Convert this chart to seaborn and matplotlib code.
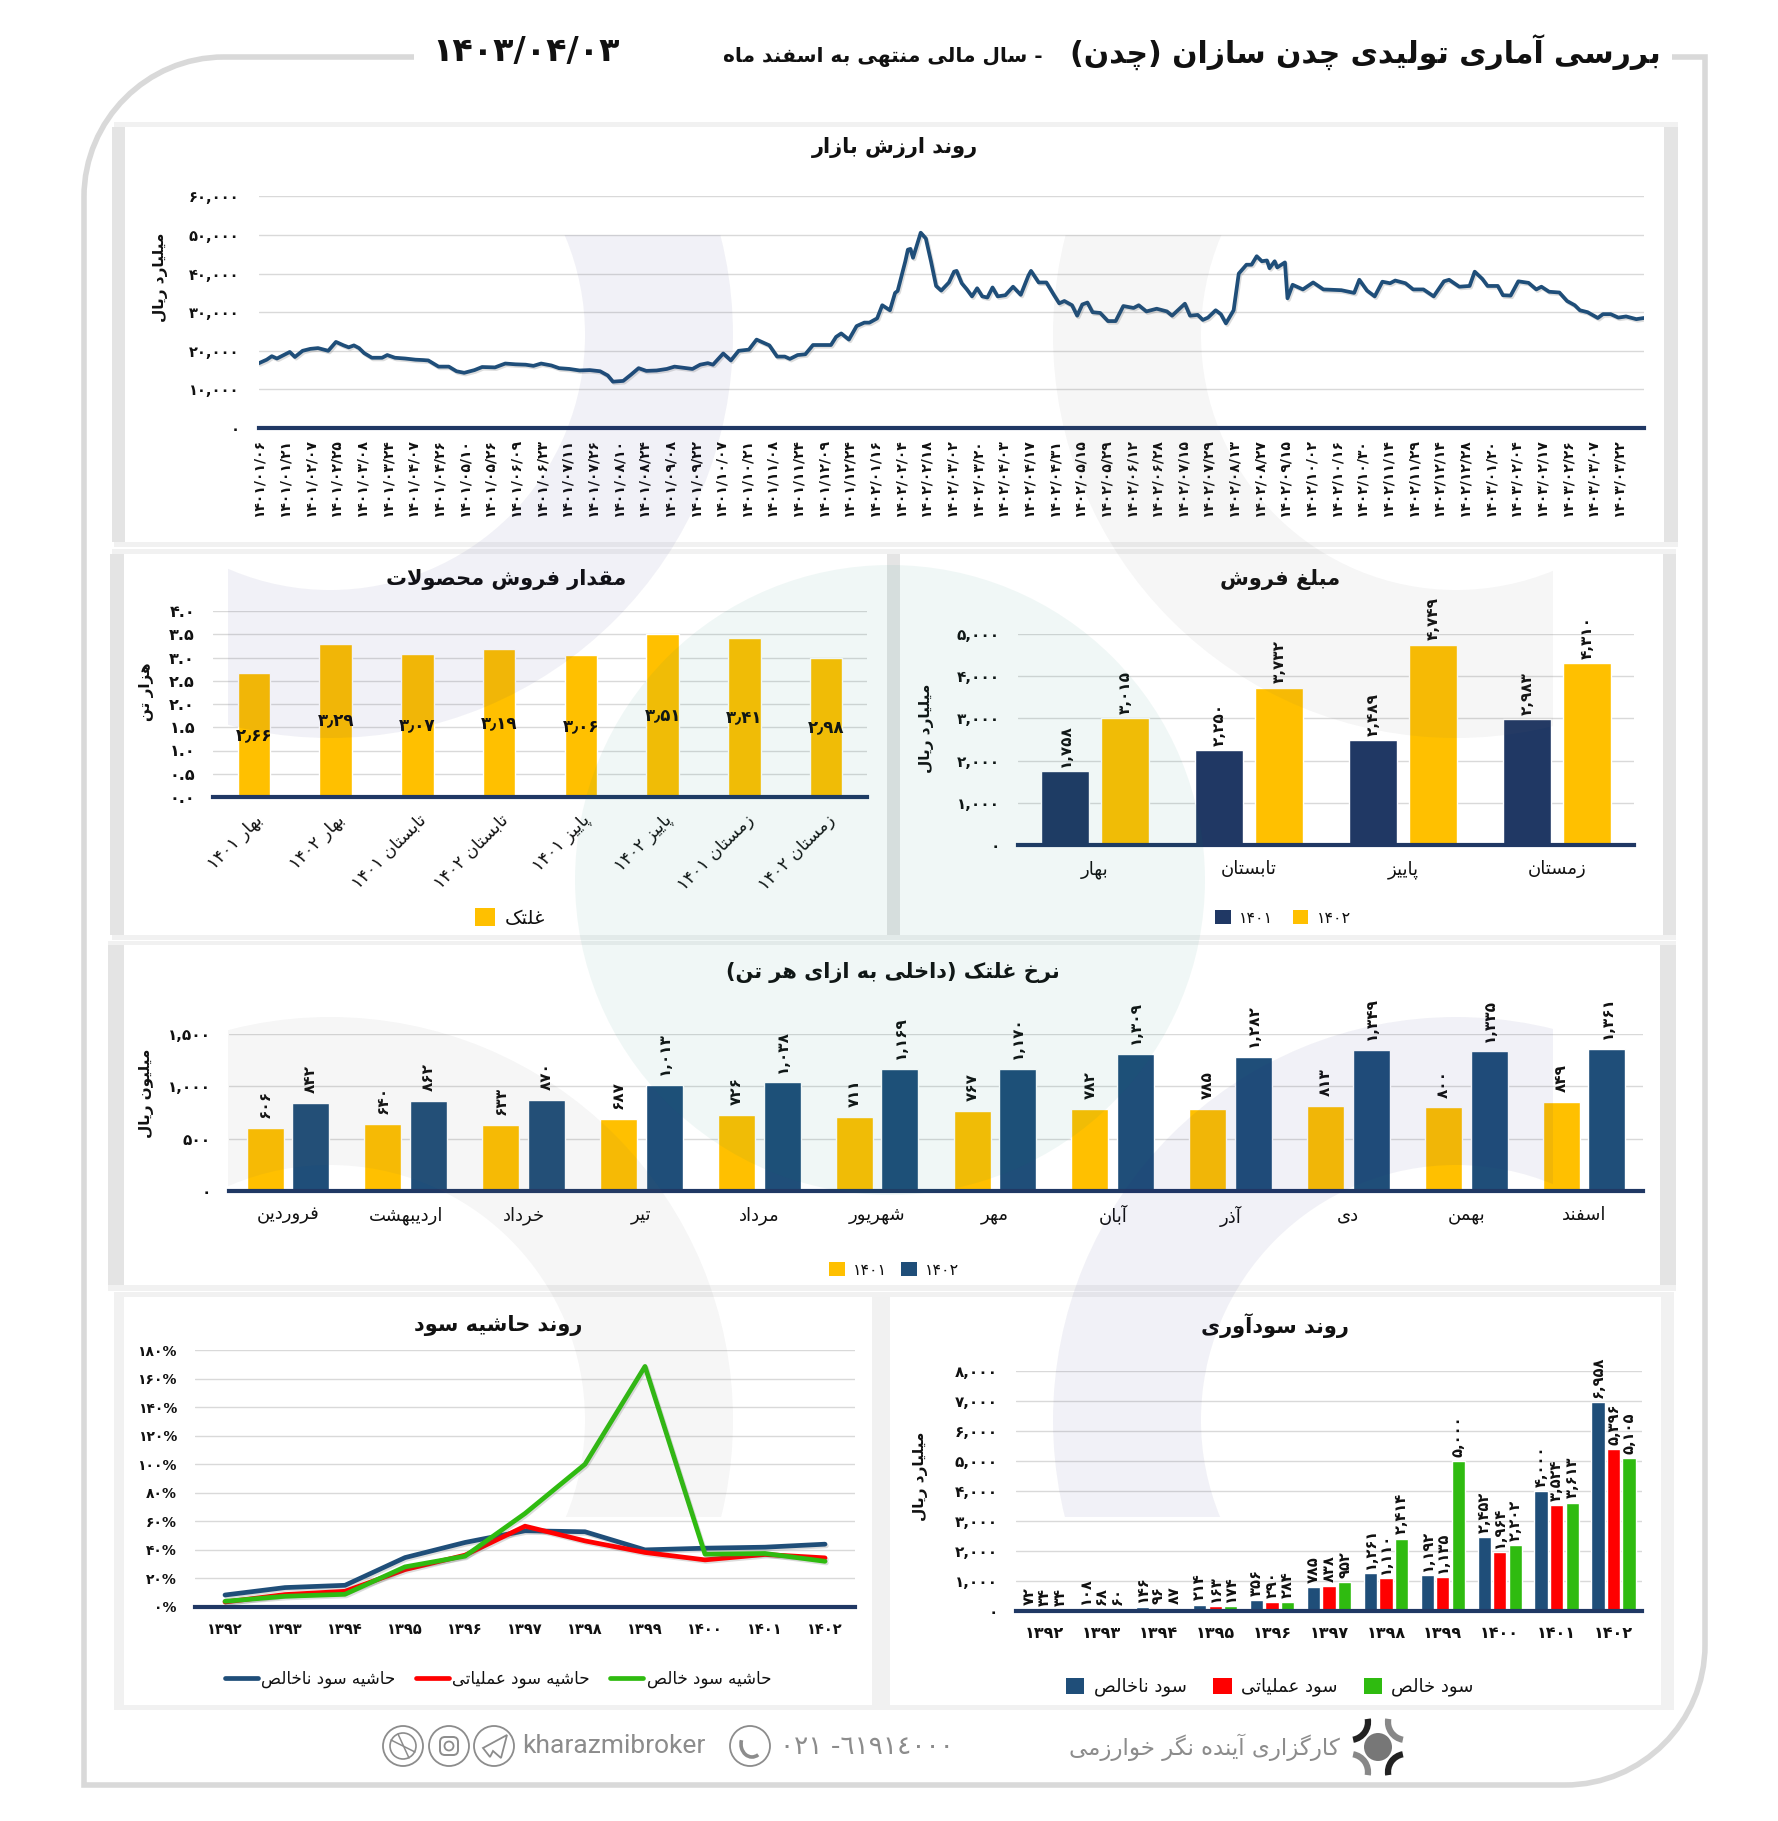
import re
import numpy as np
import pandas as pd
import seaborn as sns
import matplotlib
matplotlib.use("Agg")
import matplotlib.pyplot as plt
import matplotlib.patheffects as pe
from matplotlib.lines import Line2D
from matplotlib.patches import Rectangle, Wedge, Circle, PathPatch, Polygon, FancyBboxPatch, Arc
from matplotlib.path import Path

# ---------------- data ----------------
mcap_day = [0,3,5,7,12,14,17,20,23,27,30,33,35,37,39,41,44,48,50,53,57,61,64,66,70,74,77,80,84,87,92,96,100,104,107,110,114,117,121,125,129,133,136,138,142,145,148,151,155,159,162,169,172,175,177,181,184,187,191,194,196,199,202,205,207,210,213,216,223,225,227,230,233,236,238,241,243,246,248,249,
            252,253,254,255,258,260,262,264,266,269,271,272,274,276,278,280,282,284,286,288,291,294,297,300,301,304,307,310,312,314,317,319,321,323,325,328,331,334,337,341,343,346,350,354,356,361,363,366,368,370,373,375,377,380,382,385,387,389,391,393,394,396,397,400,401,403,407,411,415,422,427,429,432,435,438,441,443,447,450,454,458,462,464,468,472,474,477,479,483,485,488,491,495,498,500,503,507,510,513,515,518,522,524,527,530,533,537,540]
mcap_value = [16800,17700,18600,18000,19700,18400,20000,20500,20700,20000,22300,21400,20900,21400,20700,19400,18200,18200,18900,18200,18000,17700,17600,17500,15900,15900,14700,14300,15000,15800,15700,16700,16500,16400,16100,16700,16200,15500,15300,14900,15000,14700,13600,12000,12200,13800,15500,14800,14900,15300,15900,15300,16400,16800,16400,19300,17500,20000,20300,22900,22300,21400,18500,18500,17900,18900,19100,21500,21500,23600,24500,22900,26400,27300,27300,28400,31800,30500,35000,35500,
              43200,46200,46400,44100,50600,49100,43200,36800,35600,37700,40500,40700,37500,35900,34100,36200,34100,33800,36400,34100,34400,36600,34500,39500,40700,37700,37700,34400,32300,32900,31800,29100,32000,32500,30000,29800,27700,27700,31600,31100,31800,30200,30900,30200,29100,32200,29100,29300,28000,28600,30500,29500,27100,30500,40000,42300,42300,44500,43200,43400,41400,43200,41600,42900,33600,37100,35900,37700,35900,35700,35000,38400,35600,34100,37900,37500,38200,37500,35900,35900,34100,38000,38400,36600,36800,40500,38600,36800,36800,34400,34300,38000,37600,35900,36600,35300,35100,32900,31800,30500,30000,28500,29500,29500,28600,28900,28200,28500]
mcap_ticks = ["1401/01/06","1401/01/21","1401/02/07","1401/02/25","1401/03/08","1401/03/24","1401/04/07","1401/04/26","1401/05/10","1401/05/26","1401/06/09","1401/06/23","1401/07/11","1401/07/26","1401/08/10","1401/08/24","1401/09/08","1401/09/22","1401/10/07","1401/10/21","1401/11/08","1401/11/24","1401/12/09","1401/12/24","1402/01/16","1402/02/04","1402/02/18","1402/03/02","1402/03/20","1402/04/03","1402/04/17","1402/04/31","1402/05/15","1402/05/29","1402/06/12","1402/06/28","1402/07/15","1402/07/29","1402/08/13","1402/08/27","1402/09/15","1402/10/02","1402/10/16","1402/10/30","1402/11/14","1402/11/29","1402/12/14","1402/12/28","1403/01/20","1403/02/04","1403/02/17","1403/02/26","1403/03/07","1403/03/22"]

qty_labels = ["بهار 1401","بهار 1402","تابستان 1401","تابستان 1402","پاییز 1401","پاییز 1402","زمستان 1401","زمستان 1402"]
qty_values = [2.66,3.29,3.07,3.19,3.06,3.51,3.41,2.98]

seasons = ["بهار","تابستان","پاییز","زمستان"]
sales_1401 = [1758,2250,2489,2983]
sales_1402 = [3015,3732,4749,4310]

months = ["فروردین","اردیبهشت","خرداد","تیر","مرداد","شهریور","مهر","آبان","آذر","دی","بهمن","اسفند"]
rate_1401 = [606,640,633,687,726,711,767,782,785,813,800,849]
rate_1402 = [842,862,870,1013,1038,1169,1170,1309,1282,1349,1335,1361]

years = [1392,1393,1394,1395,1396,1397,1398,1399,1400,1401,1402]
margin_gross = [8.4,13.6,15.2,34.6,45.2,53.4,52.7,40.0,41.2,41.9,44.0]
margin_op = [3.5,8.7,11.0,26.2,36.3,56.6,46.3,38.2,33.0,36.8,34.4]
margin_net = [4.0,7.5,8.9,28.1,35.6,65.5,100.0,168.5,37.0,37.5,32.0]

profit_gross = [72,108,146,214,356,785,1261,1192,2452,4000,6958]
profit_op = [34,68,96,163,290,838,1110,1135,1964,3524,5396]
profit_net = [34,60,87,174,284,952,2414,5000,2202,3613,5105]

# ---------------- Persian text helpers ----------------
FORMS = {
 'ا':(0xFE8D,0xFE8E),'آ':(0xFE81,0xFE82),'د':(0xFEA9,0xFEAA),'ذ':(0xFEAB,0xFEAC),'ر':(0xFEAD,0xFEAE),
 'ز':(0xFEAF,0xFEB0),'ژ':(0xFB8A,0xFB8B),'و':(0xFEED,0xFEEE),
 'ب':(0xFE8F,0xFE90,0xFE91,0xFE92),'پ':(0xFB56,0xFB57,0xFB58,0xFB59),'ت':(0xFE95,0xFE96,0xFE97,0xFE98),
 'ث':(0xFE99,0xFE9A,0xFE9B,0xFE9C),'ج':(0xFE9D,0xFE9E,0xFE9F,0xFEA0),'چ':(0xFB7A,0xFB7B,0xFB7C,0xFB7D),
 'ح':(0xFEA1,0xFEA2,0xFEA3,0xFEA4),'خ':(0xFEA5,0xFEA6,0xFEA7,0xFEA8),'س':(0xFEB1,0xFEB2,0xFEB3,0xFEB4),
 'ش':(0xFEB5,0xFEB6,0xFEB7,0xFEB8),'ص':(0xFEB9,0xFEBA,0xFEBB,0xFEBC),'ض':(0xFEBD,0xFEBE,0xFEBF,0xFEC0),
 'ط':(0xFEC1,0xFEC2,0xFEC3,0xFEC4),'ظ':(0xFEC5,0xFEC6,0xFEC7,0xFEC8),'ع':(0xFEC9,0xFECA,0xFECB,0xFECC),
 'غ':(0xFECD,0xFECE,0xFECF,0xFED0),'ف':(0xFED1,0xFED2,0xFED3,0xFED4),'ق':(0xFED5,0xFED6,0xFED7,0xFED8),
 'ک':(0xFB8E,0xFB8F,0xFB90,0xFB91),'گ':(0xFB92,0xFB93,0xFB94,0xFB95),'ل':(0xFEDD,0xFEDE,0xFEDF,0xFEE0),
 'م':(0xFEE1,0xFEE2,0xFEE3,0xFEE4),'ن':(0xFEE5,0xFEE6,0xFEE7,0xFEE8),'ه':(0xFEE9,0xFEEA,0xFEEB,0xFEEC),
 'ی':(0xFBFC,0xFBFD,0xFBFE,0xFBFF),
}
DIG = str.maketrans("0123456789", "۰۱۲۳۴۵۶۷۸۹")
MIRROR = {'(':')', ')':'('}

def fa(s):
    s = s.translate(DIG)
    out = []
    i = 0
    n = len(s)
    def joins_next(c):
        return c in FORMS and len(FORMS[c]) == 4
    while i < n:
        c = s[i]
        if c not in FORMS:
            out.append(c); i += 1; continue
        prev = s[i-1] if i else ''
        pj = joins_next(prev)
        nxt = s[i+1] if i+1 < n else ''
        if c == 'ل' and nxt == 'ا':
            out.append(chr(0xFEFC if pj else 0xFEFB)); i += 2; continue
        nj = nxt in FORMS
        f = FORMS[c]
        if len(f) == 2:
            out.append(chr(f[1] if pj else f[0]))
        else:
            out.append(chr(f[3] if pj and nj else f[1] if pj else f[2] if nj else f[0]))
        i += 1
    shaped = "".join(out)
    runs = re.findall(r'[۰-۹,./٫%]+|[^۰-۹,./٫%]+', shaped)
    res = ""
    for r in reversed(runs):
        if re.match(r'[۰-۹,./٫%]', r):
            res += r
        else:
            res += "".join(MIRROR.get(ch, ch) for ch in r[::-1])
    return res

def num(v):
    return f"{v:,}".translate(DIG)

# ---------------- figure ----------------
W, H = 1778, 1821
sns.set_theme(style="white")
plt.rcParams['font.family'] = ['DejaVu Sans']
plt.rcParams['text.color'] = '#111111'
plt.rcParams['axes.unicode_minus'] = False
fig = plt.figure(figsize=(W/100, H/100), dpi=100, facecolor='white')

NAVY = '#203864'
GOLD = '#FFC000'
BLUE = '#1F4E79'
RED = '#FF0000'
GREEN = '#2FBB10'
GRID = '#D9D9D9'
SHADOW = '#F1F1F1'
STRIP = '#E4E4E4'

bg = fig.add_axes([0, 0, 1, 1], zorder=-1)
bg.set_xlim(0, W); bg.set_ylim(H, 0); bg.set_axis_off()
fg = fig.add_axes([0, 0, 1, 1], zorder=50)
fg.set_xlim(0, W); fg.set_ylim(H, 0); fg.set_axis_off(); fg.patch.set_alpha(0)

# outer frame
frame = Path([(414,57),(224,57),(147,57),(84,120),(84,197),(84,1785),(1565,1785),(1642,1785),(1705,1722),(1705,1645),(1705,57),(1672,57)],
             [Path.MOVETO,Path.LINETO,Path.CURVE4,Path.CURVE4,Path.CURVE4,Path.LINETO,Path.LINETO,Path.CURVE4,Path.CURVE4,Path.CURVE4,Path.LINETO,Path.LINETO])
bg.add_patch(PathPatch(frame, fc='none', ec='#D9D9D9', lw=4))

# panels
for (sl,st,sr,sb,c) in [(114,122,1678,547,SHADOW),(112,549,1676,940,SHADOW),(108,941,1676,1291,SHADOW),(114,1292,1674,1710,SHADOW),
                        (112,127,125,542,STRIP),(1664,127,1678,542,STRIP),(887,554,900,935,STRIP),(110,554,124,935,STRIP),
                        (1663,554,1676,935,STRIP),(108,945,124,1285,STRIP),(1660,945,1676,1285,STRIP)]:
    bg.add_patch(Rectangle((sl,st), sr-sl, sb-st, fc=c, ec='none'))
for (l,t,r,b) in [(125,127,1664,542),(124,554,887,935),(900,554,1663,935),(124,945,1660,1285),(124,1297,872,1705),(890,1297,1661,1705)]:
    bg.add_patch(Rectangle((l,t), r-l, b-t, fc='white', ec='none'))

# faint watermark over the panels
def ring(cx, cy, clip, color):
    w = Wedge((cx,cy), 403, 0, 360, width=148, fc=color, ec='none', alpha=0.06)
    fg.add_patch(w)
    w.set_clip_path(Rectangle((clip[0],clip[1]), clip[2]-clip[0], clip[3]-clip[1], transform=fg.transData))
ring(330, 335, (228,235,760,742), (32/255,32/255,127/255))
ring(1456, 335, (1040,235,1553,742), (0.4,0.4,0.4))
ring(330, 1420, (228,1010,760,1517), (0.4,0.4,0.4))
ring(1456, 1420, (1040,1010,1553,1517), (32/255,32/255,127/255))
fg.add_patch(Circle((890,880), 315, fc=(0,0.5,0.44), ec='none', alpha=0.06))

def px_ax(l, t, r, b):
    ax = fig.add_axes([l/W, 1-b/H, (r-l)/W, (b-t)/H], zorder=2)
    ax.patch.set_alpha(0)
    ax._px = (l,t,r,b)
    return ax

def style(ax, ysize=11, xsize=10.5, xbold=False, pad=8, ypad=14):
    sns.despine(ax=ax, left=True, top=True, right=True)
    ax.spines['bottom'].set_color(NAVY)
    ax.spines['bottom'].set_linewidth(3)
    ax.spines['bottom'].set_zorder(6)
    ax.grid(axis='y', color=GRID, lw=1)
    ax.grid(axis='x', visible=False)
    ax.set_axisbelow(True)
    ax.tick_params(axis='y', length=0, pad=ypad, labelsize=ysize, labelcolor='#111111')
    ax.tick_params(axis='x', length=0, pad=pad, labelsize=xsize, labelcolor='#111111')
    for t in ax.get_yticklabels():
        t.set_fontweight('bold')
    for t in ax.get_xticklabels():
        t.set_fontweight('bold' if xbold else 'normal')

def title(ax, text, px, py, size=15):
    l,t,r,b = ax._px
    ax.set_title(fa(text), x=(px-l)/(r-l), y=(b-py)/(b-t), va='center', ha='center',
                 fontsize=size, fontweight='bold', color='#111111', pad=0)

def ylab(ax, text, px, py, size=11):
    l,t,r,b = ax._px
    ax.set_ylabel(fa(text), fontsize=size, fontweight='bold', color='#111111', va='center')
    ax.yaxis.set_label_coords((px-l)/(r-l), (b-py)/(b-t))

def leg(ax, handles, labels, cx, cy, size=11, **kw):
    ax.legend(handles, [fa(x) for x in labels], loc='center', ncol=len(labels),
              bbox_to_anchor=(cx/W, 1-cy/H), bbox_transform=fig.transFigure,
              frameon=False, prop={'size':size}, handlelength=kw.pop('hl',1.0), handleheight=kw.pop('hh',1.0),
              handletextpad=kw.pop('hp',0.5), columnspacing=kw.pop('cs',1.6), borderpad=0, **kw)

def sq(c):
    return Rectangle((0,0),1,1,fc=c,ec='none')

def ticks_num(ax, vals, fmt=num):
    ax.set_yticks(vals)
    ax.set_yticklabels([fmt(v) for v in vals])

# ---- market value line ----
ax1 = px_ax(259, 196.4, 1644, 428)
sns.lineplot(x=mcap_day, y=mcap_value, color=BLUE, lw=2.7, ax=ax1, errorbar=None)
ax1.set_xlim(0, 540); ax1.set_ylim(0, 60000)
ticks_num(ax1, list(range(0, 60001, 10000)))
ax1.set_xticks(np.arange(len(mcap_ticks))*10)
ax1.set_xticklabels([t.translate(DIG) for t in mcap_ticks], rotation=90)
style(ax1, ysize=10.5, xsize=10, xbold=True, pad=8, ypad=14)
title(ax1, "روند ارزش بازار", 895, 147)
ylab(ax1, "میلیارد ریال", 161, 277)
ax1.set_xlabel('')

# ---- sold quantity ----
ax2 = px_ax(213, 611, 867, 797)
df = pd.DataFrame({'cat':[fa(x) for x in qty_labels], 'val':qty_values})
sns.barplot(data=df, x='cat', y='val', color=GOLD, saturation=1, width=0.4, ax=ax2)
ax2.set_ylim(0, 4)
ticks_num(ax2, [i*0.5 for i in range(9)], lambda v: f"{v:.1f}".translate(DIG))
plt.setp(ax2.get_xticklabels(), rotation=45, ha='right', rotation_mode='anchor')
style(ax2, ysize=11.5, xsize=12.5, pad=10, ypad=13)
ax2.bar_label(ax2.containers[0], labels=[f"{v:.2f}".replace('.', '٫').translate(DIG) for v in qty_values],
              label_type='center', fontsize=12, fontweight='bold', color='#111111')
title(ax2, "مقدار فروش محصولات", 506, 580)
ylab(ax2, "هزار تن", 146, 692)
ax2.set_xlabel('')
leg(ax2, [sq(GOLD)], ["غلتک"], 510, 918, size=14)

# ---- sales amount ----
ax3 = px_ax(1018, 634, 1634, 845)
df = pd.DataFrame({'season':[fa(s) for s in seasons]*2,
                   'year':['1401']*4+['1402']*4,
                   'val':sales_1401+sales_1402})
sns.barplot(data=df, x='season', y='val', hue='year', palette={'1401':NAVY,'1402':GOLD}, saturation=1,
            width=0.774, gap=0.204, legend=False, ax=ax3)
ax3.set_ylim(0, 5000)
ticks_num(ax3, list(range(0, 5001, 1000)))
style(ax3, xsize=13, pad=11, ypad=13)
for c, vals in zip(ax3.containers, [sales_1401, sales_1402]):
    ax3.bar_label(c, labels=[num(v) for v in vals], rotation=90, padding=3, fontsize=11, fontweight='bold', color='#111111')
title(ax3, "مبلغ فروش", 1280, 580)
ylab(ax3, "میلیارد ریال", 926, 728)
ax3.set_xlabel('')
leg(ax3, [sq(NAVY), sq(GOLD)], ["1401","1402"], 1283, 918, size=11.5, cs=1.2)

# ---- rolling rate ----
ax4 = px_ax(229, 1034, 1643, 1191)
df = pd.DataFrame({'month':[fa(m) for m in months]*2,
                   'year':['1401']*12+['1402']*12,
                   'val':rate_1401+rate_1402})
sns.barplot(data=df, x='month', y='val', hue='year', palette={'1401':GOLD,'1402':BLUE}, saturation=1,
            width=0.776, gap=0.19, legend=False, ax=ax4)
ax4.set_ylim(0, 1500)
ticks_num(ax4, [0,500,1000,1500])
style(ax4, xsize=13, pad=11, ypad=13)
for c, vals in zip(ax4.containers, [rate_1401, rate_1402]):
    ax4.bar_label(c, labels=[num(v) for v in vals], rotation=90, padding=7, fontsize=11, fontweight='bold', color='#111111')
title(ax4, "نرخ غلتک (داخلی به ازای هر تن)", 893, 972)
ylab(ax4, "میلیون ریال", 147, 1093)
ax4.set_xlabel('')
leg(ax4, [sq(GOLD), sq(BLUE)], ["1401","1402"], 894, 1270, size=11.5, cs=0.9)

# ---- profit margin ----
ax5 = px_ax(195, 1350, 855, 1607)
names = ["حاشیه سود ناخالص","حاشیه سود عملیاتی","حاشیه سود خالص"]
df = pd.DataFrame({'year':years*3, 'val':margin_gross+margin_op+margin_net,
                   'kind':[names[0]]*11+[names[1]]*11+[names[2]]*11})
sns.lineplot(data=df, x='year', y='val', hue='kind', hue_order=names,
             palette=dict(zip(names,[BLUE,RED,GREEN])), lw=3.4, legend=False, errorbar=None, ax=ax5)
ax5.set_xlim(1391.5, 1402.5); ax5.set_ylim(0, 180)
ticks_num(ax5, list(range(0,181,20)), lambda v: f"{v}%".translate(DIG))
ax5.set_xticks(years); ax5.set_xticklabels([str(y).translate(DIG) for y in years])
style(ax5, ysize=10, xsize=10.5, xbold=True, pad=11, ypad=13)
title(ax5, "روند حاشیه سود", 498, 1325)
ax5.set_xlabel(''); ax5.set_ylabel('')
leg(ax5, [Line2D([],[],color=c,lw=3.4) for c in [BLUE,RED,GREEN]], names, 498, 1679, size=12, hl=2.0, hh=0.7, hp=0.2, cs=1.2)

# ---- profitability ----
ax6 = px_ax(1016, 1371, 1642, 1611)
names6 = ["سود ناخالص","سود عملیاتی","سود خالص"]
df = pd.DataFrame({'year':[str(y).translate(DIG) for y in years]*3, 'val':profit_gross+profit_op+profit_net,
                   'kind':[names6[0]]*11+[names6[1]]*11+[names6[2]]*11})
sns.barplot(data=df, x='year', y='val', hue='kind', hue_order=names6,
            palette=dict(zip(names6,[BLUE,RED,GREEN])), saturation=1, width=0.82, gap=0.147, legend=False, ax=ax6)
ax6.set_ylim(0, 8000)
ticks_num(ax6, list(range(0,8001,1000)))
style(ax6, xsize=11.5, xbold=True, pad=11, ypad=13)
for c, vals in zip(ax6.containers, [profit_gross, profit_op, profit_net]):
    ax6.bar_label(c, labels=[num(v) for v in vals], rotation=90, padding=3, fontsize=10.5, fontweight='bold', color='#111111')
title(ax6, "روند سودآوری", 1275, 1326)
ylab(ax6, "میلیارد ریال", 921, 1476)
ax6.set_xlabel('')
leg(ax6, [sq(BLUE), sq(RED), sq(GREEN)], names6, 1270, 1687, size=13, cs=1.5)

for ax in (ax1, ax5):
    for ln in ax.get_lines():
        ln.set_path_effects([pe.SimpleLineShadow(offset=(1,-1.2), alpha=0.2, shadow_color='#555555'), pe.Normal()])
        ln.set_solid_joinstyle('round')

# ---- header ----
def ftext(x, y, s, **kw):
    kw.setdefault('va','center')
    fig.text(x/W, 1-y/H, s, **kw)
ftext(1661, 53, fa("بررسی آماری تولیدی چدن سازان (چدن)"), ha='right', fontsize=21.5, fontweight='bold', color='#111111')
ftext(1043, 57, fa("- سال مالی منتهی به اسفند ماه"), ha='right', fontsize=14.5, fontweight='bold', color='#111111')
ftext(432, 52, "۱۴۰۳/۰۴/۰۳", ha='left', fontsize=24, fontweight='bold', color='#111111')

# ---- footer ----
GREY = '#8C8C8C'
ftext(1340, 1747, fa("کارگزاری آینده نگر خوارزمی"), ha='right', fontsize=16.5, color=GREY)
ftext(954, 1747, "٠٢١ -٦١٩١٤٠٠٠", ha='right', fontsize=19, color=GREY)
ftext(705, 1746, "kharazmibroker", ha='right', fontsize=19, color=GREY, family='Roboto')
for cx in (403, 449, 494, 750):
    bg.add_patch(Circle((cx,1746), 20, fc='none', ec=GREY, lw=1.3))
# dribbble
bg.add_patch(Circle((403,1746), 13, fc='none', ec=GREY, lw=1.2))
bg.plot([391,415],[1740,1752], color=GREY, lw=1.1)
bg.plot([398,409],[1734,1758], color=GREY, lw=1.1)
# instagram
bg.add_patch(FancyBboxPatch((440,1737), 18, 18, boxstyle="round,pad=0,rounding_size=5", fc='none', ec=GREY, lw=1.4))
bg.add_patch(Circle((449,1746), 4.5, fc='none', ec=GREY, lw=1.3))
# telegram
bg.add_patch(Polygon([(483,1748),(507,1735),(501,1758),(493,1751),(490,1757)], closed=True, fc='none', ec=GREY, lw=1.3))
# phone
bg.add_patch(Arc((752,1744), 22, 26, theta1=60, theta2=200, ec=GREY, lw=2.6))
# logo
bg.add_patch(Circle((1378,1747), 14, fc='#777777', ec='none'))
for (cx,cy,t1,t2,c) in [(1350,1722,-10,80,'#222222'),(1406,1722,100,190,'#888888'),(1350,1772,280,370,'#888888'),(1406,1772,170,260,'#222222')]:
    bg.add_patch(Arc((cx,cy), 36, 36, theta1=t1, theta2=t2, ec=c, lw=4.5))

fig.savefig("out.png", dpi=100, facecolor='white')
